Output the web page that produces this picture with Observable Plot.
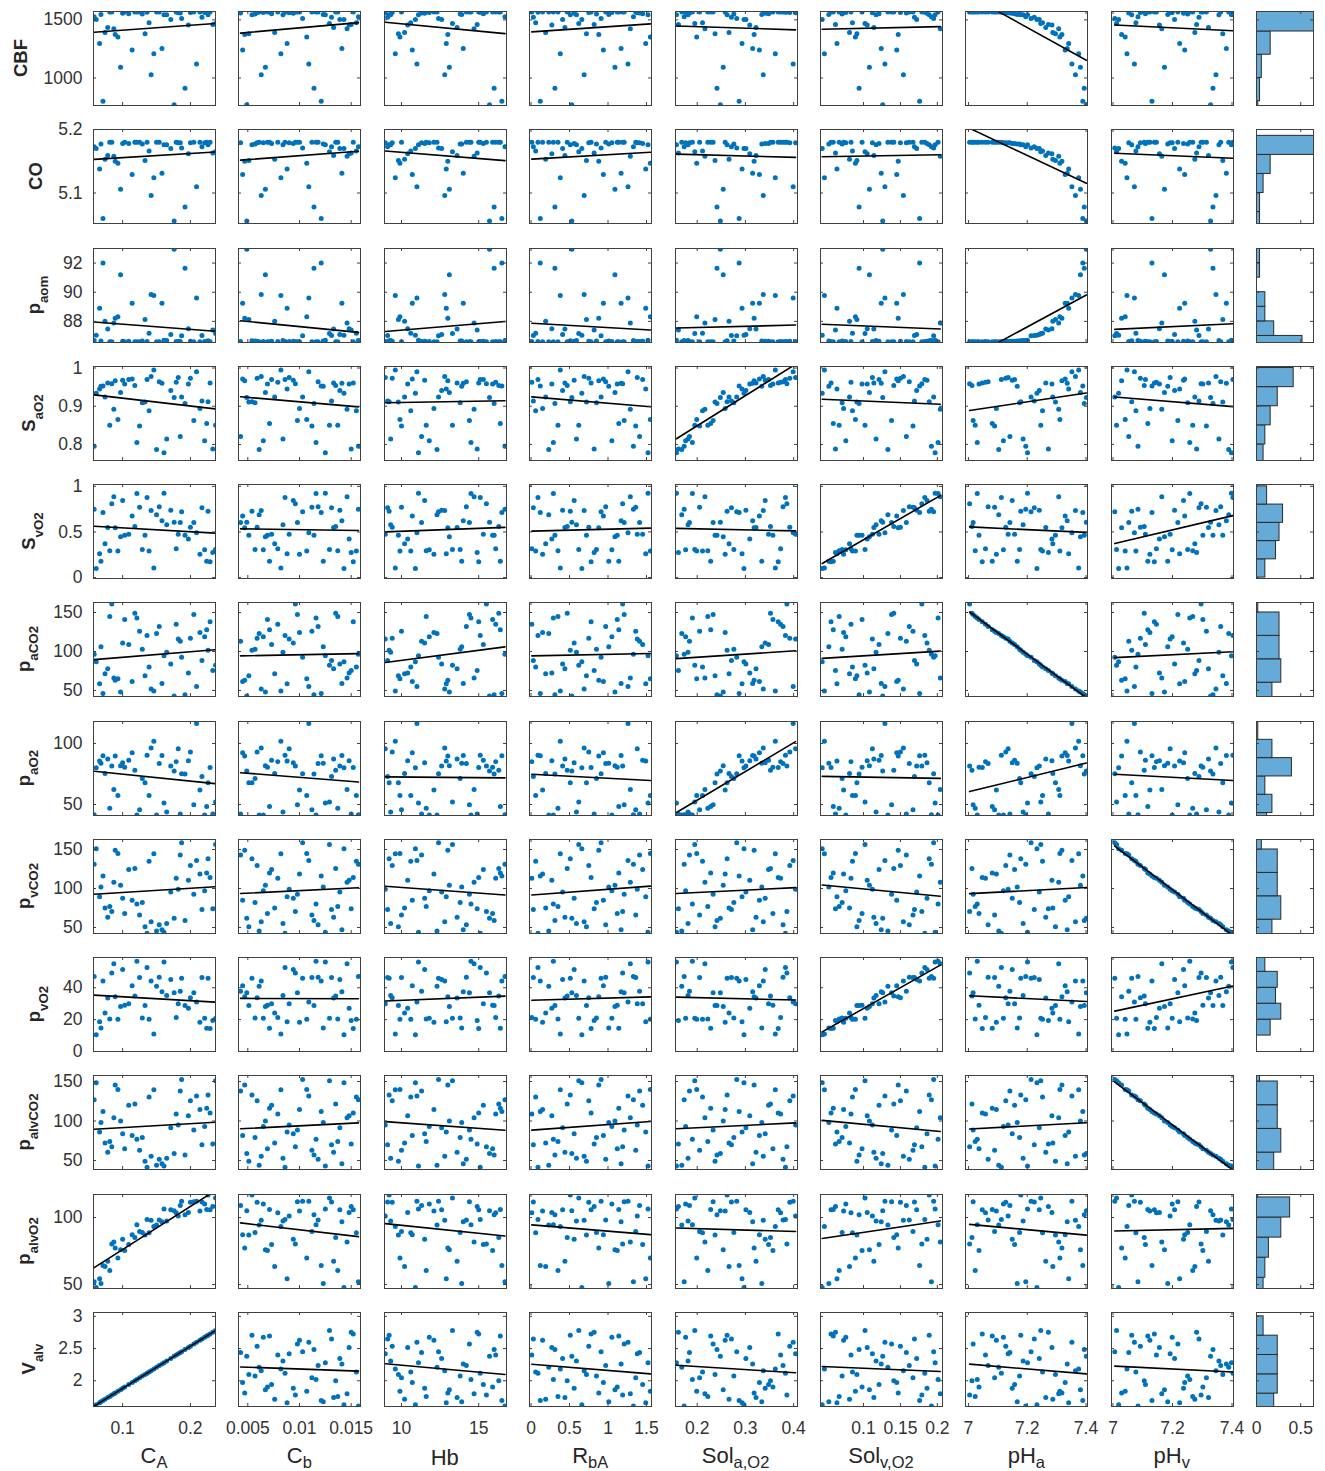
<!DOCTYPE html>
<html><head><meta charset="utf-8">
<script src="https://cdn.jsdelivr.net/npm/d3@7"></script>
<script src="https://cdn.jsdelivr.net/npm/@observablehq/plot@0.6"></script>
<style>
body{margin:0;background:#fff;}
#fig{position:relative;width:1325px;height:1471px;background:#fff;font-family:"Liberation Sans",Arial,Helvetica,sans-serif;overflow:hidden;}
.cell{position:absolute;}
.ylab{position:absolute;font-weight:bold;font-size:18.5px;line-height:1;color:#262626;white-space:nowrap;transform-origin:50% 100%;transform:translate(-50%,-100%) rotate(-90deg);}
.ylab sub{font-size:72%;vertical-align:-0.6em;}
.xlab{position:absolute;font-size:22px;line-height:1;color:#262626;white-space:nowrap;transform:translate(-50%,-50%);}
.xlab sub{font-size:75%;vertical-align:-0.3em;}
</style></head><body><div id="fig"></div>
<script>
// ---- input samples ----
const CA = [0.187,0.179,0.066,0.2,0.133,0.118,0.071,0.129,0.139,0.125,0.089,0.103,0.058,0.142,0.185,0.233,0.084,
  0.061,0.176,0.15,0.109,0.114,0.154,0.197,0.165,0.081,0.146,0.221,0.237,0.229,0.087,0.068,0.192,0.224,
  0.217,0.209,0.182,0.078,0.205,0.161,0.158,0.214,0.074,0.1,0.097,0.121,0.171,0.136,0.093,0.226];
const Cb = [0.0103,0.0079,0.0088,0.0059,0.0051,0.0135,0.0121,0.0057,0.0155,0.0112,0.0047,0.0069,0.0157,0.0063,0.0043,0.015,0.0096,
  0.0143,0.0049,0.0061,0.0073,0.0045,0.0118,0.0148,0.0084,0.0137,0.0082,0.0065,0.0129,0.0152,0.0146,0.0123,0.0114,0.0071,
  0.0131,0.0109,0.009,0.0133,0.0098,0.0125,0.0141,0.01,0.0076,0.0094,0.0067,0.0116,0.0139,0.0086,0.0107,0.0054];
const Hb = [12.4,16.1,12.9,9.4,9.8,16.3,16.5,13.8,10.6,10,13,15.9,16.7,12.8,11.3,14.9,15.5,
  10.9,15.7,12.3,15.3,10.7,14.2,10.4,9.3,11.6,9.6,11.8,13.3,15,14.7,13.9,16,16.4,
  9.1,11,8.95,13.6,14.4,11.1,14,12.1,10.2,11.5,13.1,14.5,12.6,15.1,9.9,9.2];
const RbA = [0.91,0.01,1.49,0.75,0.72,0.47,0.12,0.85,0.06,1.36,0.88,1.12,1.33,0.69,1.41,0.82,1.19,
  0.66,0.53,0.23,1.45,0.94,0.97,0.27,0.59,0.35,0.38,1.05,0.62,0.78,1.29,1.01,0.31,1.14,
  0.03,1.26,1.38,0.44,1.21,1.52,1.17,0.15,0.19,0.56,1.09,0.29,0.41,0.09,1.55,0.51];
const Sola = [0.282,0.373,0.293,0.392,0.237,0.352,0.287,0.276,0.211,0.205,0.318,0.357,0.173,0.337,0.184,0.161,0.386,
  0.297,0.248,0.168,0.348,0.329,0.378,0.309,0.181,0.222,0.362,0.176,0.195,0.368,0.216,0.334,0.241,0.228,
  0.271,0.399,0.404,0.322,0.233,0.157,0.315,0.258,0.266,0.341,0.254,0.19,0.301,0.383,0.199,0.262];
const Solv = [0.195,0.083,0.064,0.15,0.091,0.141,0.176,0.071,0.085,0.167,0.147,0.098,0.192,0.154,0.158,0.062,0.179,
  0.044,0.126,0.133,0.121,0.145,0.162,0.105,0.117,0.067,0.047,0.076,0.102,0.056,0.204,0.053,0.094,0.059,
  0.169,0.129,0.112,0.114,0.138,0.197,0.124,0.073,0.081,0.186,0.108,0.201,0.172,0.183,0.089,0.189];
const pHa = [7.213,7.058,7.341,7.127,7.296,7.012,7.389,7.174,7.252,7.089,7.318,7.036,7.195,7.364,7.141,7.272,7.004,
  7.233,7.401,7.103,7.157,7.329,7.067,7.284,7.186,7.023,7.375,7.119,7.246,7.047,7.307,7.166,7.394,7.081,
  7.224,7.352,7.135,7.263,7.016,7.201,7.336,7.095,7.287,7.149,7.381,7.030,7.241,7.112,7.311,7.178];
const pHv = [7.006,7.146,7.224,7.092,7.369,7.105,7.131,7.251,7.077,7.314,7.029,7.302,7.084,7.346,7.053,7.281,7.296,
  7.019,7.328,7.389,7.109,7.241,7.362,7.156,7.356,7.268,7.047,7.199,7.012,7.139,7.164,7.184,7.336,7.117,
  7.289,7.072,7.192,7.321,7.218,7.398,7.381,7.124,7.275,7.237,7.173,7.258,7.207,7.403,7.041,7.063];

// ---- output samples ----
const CBF = [1512,1568,1297,1563,1381,1568,800,1550,1476,1568,1375,1568,1526,1027,1560,1460,1568,
  1503,770,1567,1553,1240,1568,1455,1543,1568,1209,1564,1469,1568,1424,1546,912,1568,
  1523,1120,1561,1434,1568,1543,1254,1568,1392,1558,1092,1568,1503,1566,1353,1544];
const CO = [5.171,5.180,5.138,5.179,5.151,5.180,5.060,5.177,5.166,5.180,5.150,5.180,5.173,5.096,5.179,5.163,5.180,
  5.170,5.056,5.180,5.178,5.129,5.180,5.162,5.176,5.180,5.124,5.179,5.165,5.180,5.158,5.177,5.078,5.180,
  5.173,5.110,5.179,5.159,5.180,5.176,5.131,5.180,5.153,5.178,5.106,5.180,5.170,5.180,5.147,5.176];
const paom = [87.02,86.62,88.90,86.64,88.13,86.60,92.00,86.66,87.19,86.61,88.22,86.60,86.69,89.85,86.62,87.41,86.60,
  87.05,92.95,86.61,86.63,89.25,86.60,87.49,86.68,86.61,89.77,86.62,87.16,86.60,87.88,86.65,91.65,86.61,
  87.03,89.60,86.62,87.48,86.60,86.70,89.25,86.61,88.00,86.63,91.20,86.60,87.10,86.62,88.31,86.67];
const SaO2 = [0.924,0.963,0.945,0.973,0.911,0.954,0.953,0.909,0.888,0.848,0.967,0.958,0.795,0.978,0.821,0.788,0.959,
  0.934,0.923,0.787,0.970,0.971,0.964,0.958,0.814,0.850,0.995,0.810,0.850,0.961,0.892,0.952,0.907,0.855,
  0.914,0.990,0.975,0.961,0.863,0.778,0.960,0.894,0.924,0.968,0.936,0.805,0.941,0.970,0.865,0.912];
const SvO2 = [0.721,0.316,0.260,0.551,0.465,0.560,0.714,0.307,0.290,0.770,0.547,0.464,0.750,0.734,0.604,0.276,0.808,
  0.100,0.607,0.688,0.475,0.674,0.775,0.424,0.580,0.295,0.105,0.306,0.309,0.174,0.886,0.180,0.463,0.178,
  0.766,0.492,0.475,0.549,0.604,0.925,0.624,0.255,0.370,0.844,0.447,0.921,0.737,0.877,0.292,0.728];
const paCO2 = [92.5,135,58.5,117,69,149,46,103,80,126,63,141,96.5,52,113,75.5,161,
  87,43,123,109,61.5,132,72.5,99,145,49.5,119,82.5,138,66,106,44.5,128,
  88.5,55,116,78,147.5,94.5,59,124.5,71.5,111,48,143,84,120.5,65,101.5];
const paO2 = [75.1,85.1,85.6,93.0,67.9,78.0,90.0,71.3,57.4,45.8,89.7,80.5,41.7,96.3,42.2,42.3,81.6,
  80.2,77.5,41.5,86.2,92.5,83.6,85.8,43.9,47.0,101.9,41.5,52.0,80.4,62.3,83.8,75.0,48.3,
  73.0,116.3,95.6,87.2,49.9,51.2,90.2,61.8,75.4,84.2,81.8,41.5,81.5,90.3,57.3,67.8];
const pvCO2 = [158.5,113,89.5,129.5,51,125.5,116,82,135,66,149,68,131,57.5,143,74,70.5,
  151,62,45.5,124.5,85,53.5,110.5,55,77,144.5,97,156.5,114,108,102,59,120,
  73,136,99,63,92.5,44,47,118.5,75,87.5,104,80,95.5,42.5,145,138];
const pvO2 = [45.9,21.4,18.6,33.8,28.9,34.9,44.3,21.1,20.2,46.5,34.4,29.0,47.1,44.2,37.8,19.5,49.2,
  10.5,36.8,41.0,30.0,41.3,46.6,27.1,35.1,20.4,11.0,20.9,20.8,14.5,55.1,14.8,28.9,14.6,
  46.5,31.0,29.9,33.6,36.9,56.2,37.5,18.4,24.2,51.4,28.3,56.6,45.2,52.8,20.3,45.9];
const palvCO2 = [152.5,109,86,125.5,49,121.5,112,79,130.5,63,145.5,65,127,55.5,138,71,67.5,
  148.5,59,44,120,81.5,51.5,106.5,53,74,139.5,93,151,110,104,98,57,116,
  70,131.5,95,60.5,88.5,43,46,114.5,72,84,100,77,91.5,41.5,140,133];
const palvO2 = [112.2,103.5,54.3,111.5,87.0,85.0,64.1,88.8,88.6,89.5,77.3,75.4,52.0,98.0,109.0,108.2,80.2,
  47.8,105.1,94.5,79.8,87.2,98.2,103.8,97.5,60.5,93.3,110.1,114.6,105.9,81.7,50.7,102.1,106.0,
  111.6,112.2,101.2,67.3,111.8,106.3,96.9,104.9,63.4,83.7,76.0,94.6,105.8,98.5,69.8,116.8];
const Valv = [2.452,2.399,1.659,2.537,2.098,2,1.692,2.072,2.137,2.045,1.81,1.901,1.607,2.157,2.438,2.753,1.777,
  1.626,2.379,2.209,1.941,1.973,2.235,2.517,2.307,1.757,2.183,2.674,2.779,2.727,1.797,1.672,2.484,2.694,
  2.648,2.596,2.419,1.738,2.569,2.281,2.262,2.628,1.711,1.882,1.862,2.019,2.347,2.117,1.836,2.707];

// ---- axis labels, limits, ticks, histogram bins ----
const inputNames = ["CA","Cb","Hb","RbA","Sola","Solv","pHa","pHv"];
const inputLabels = ["C<sub>A</sub>","C<sub>b</sub>","Hb","R<sub>bA</sub>","Sol<sub>a,O2</sub>","Sol<sub>v,O2</sub>","pH<sub>a</sub>","pH<sub>v</sub>"];
const inputDomains = [[0.057,0.237],[0.0041,0.0159],[8.9,16.8],[-0.02,1.565],[0.155,0.408],[0.0417,0.207],[6.99,7.405],[6.995,7.405]];
const inputTicks = [[0.1,0.2],[0.005,0.01,0.015],[10,15],[0,0.5,1,1.5],[0.2,0.3,0.4],[0.1,0.15,0.2],[7,7.2,7.4],[7,7.2,7.4]];

const outputNames = ["CBF","CO","paom","SaO2","SvO2","paCO2","paO2","pvCO2","pvO2","palvCO2","palvO2","Valv"];
const outputLabels = ["CBF","CO","p<sub>aom</sub>","S<sub>aO2</sub>","S<sub>vO2</sub>","p<sub>aCO2</sub>","p<sub>aO2</sub>","p<sub>vCO2</sub>","p<sub>vO2</sub>","p<sub>alvCO2</sub>","p<sub>alvO2</sub>","V<sub>alv</sub>"];
const outputDomains = [[763,1572],[5.052,5.2],[86.55,93.0],[0.758,1.004],[-0.01,1.02],[42.3,162.8],[41,118],[42.3,162.8],[0,59],[38.6,157.6],[47,117.2],[1.6,3.06]];
const outputTicks = [[1000,1500],[5.1,5.2],[88,90,92],[0.8,0.9,1],[0,0.5,1],[50,100,150],[50,100],[50,100,150],[0,20,40],[50,100,150],[50,100],[2,2.5,3]];
const outputBins = [[600,800,1000,1200,1400,1600],[5.04,5.07,5.10,5.13,5.16,5.19],[86,87,88,89,90,91,92,93],[0.75,0.8,0.85,0.9,0.95,1.0],[0,0.2,0.4,0.6,0.8,1.0],[30,60,90,120,150,180],[28,43,58,73,88,103,118,133],[30,60,90,120,150,180],[0,10,20,30,40,50,60],[30,60,90,120,150,180],[40,55,70,85,100,115,130],[1.5,1.8,2.1,2.4,2.7,3.0]];
const histDomain = [0, 0.644];
const histTicks = [0, 0.5];

// ---- build sample table ----
const columns = {CA,Cb,Hb,RbA,Sola,Solv,pHa,pHv,CBF,CO,paom,SaO2,SvO2,paCO2,paO2,pvCO2,pvO2,palvCO2,palvO2,Valv};
const data = CA.map((_, i) => Object.fromEntries(Object.entries(columns).map(([k, v]) => [k, v[i]])));

// ---- layout ----
const fig = document.getElementById("fig");
const FONT = '"Liberation Sans", Arial, Helvetica, sans-serif';
const fmt = d => String(d);
const colLeft = c => 93 + c * 145.4;
const rowTop = r => 11 + r * 118.25;
const PH = 94;
const AX = "#404040";
const tickFS = 17.5;

function textW(s) {
  let w = 0; for (const ch of s) w += (ch === "." ? 0.278 : 0.556);
  return w * tickFS;
}

outputNames.forEach((yk, r) => {
  for (let c = 0; c < 9; c++) {
    const isHist = c === 8;
    const W = isHist ? 57 : 122;
    const ml = c === 0 ? 70 : 2, mr = 2, mt = 2, mb = r === 11 ? 40 : 2;
    const xdom = isHist ? histDomain : inputDomains[c];
    const xt = isHist ? histTicks : inputTicks[c];
    const yt = outputTicks[r];
    const marks = [];
    if (isHist) {
      const bins = outputBins[r];
      marks.push(Plot.rectX(data, Plot.binY({x: "proportion"}, {
        y: yk, thresholds: bins, domain: [bins[0], bins[bins.length - 1]],
        fill: "#66AAD7", stroke: "#2a2a2a", strokeWidth: 1, insetTop: 0, insetBottom: 0, clip: true
      })));
    } else {
      const xk = inputNames[c];
      marks.push(Plot.dot(data, {x: xk, y: yk, r: 2.5, fill: "#0072BD", clip: true}));
      marks.push(Plot.linearRegressionY(data, {x: xk, y: yk, stroke: "#000", strokeWidth: 1.6, ci: 0, clip: true}));
    }
    marks.push(Plot.tickX(xt, {x: d => d, insetTop: PH - 3, stroke: AX, clip: true}));
    marks.push(Plot.tickX(xt, {x: d => d, insetBottom: PH - 3, stroke: AX, clip: true}));
    marks.push(Plot.tickY(yt, {y: d => d, insetRight: W - 3, stroke: AX, clip: true}));
    marks.push(Plot.tickY(yt, {y: d => d, insetLeft: W - 3, stroke: AX, clip: true}));
    marks.push(Plot.frame({stroke: AX, strokeWidth: 1}));
    if (c === 0) marks.push(Plot.axisY({ticks: yt, anchor: "left", tickSize: 0, tickPadding: 11, tickFormat: fmt, label: null, fontSize: tickFS}));
    if (r === 11) marks.push(Plot.axisX({ticks: xt, anchor: "bottom", tickSize: 0, tickPadding: 15, tickFormat: fmt, label: null, fontSize: tickFS}));

    const svg = Plot.plot({
      width: W + ml + mr, height: PH + mt + mb,
      marginLeft: ml, marginRight: mr, marginTop: mt, marginBottom: mb,
      x: {domain: xdom, axis: null},
      y: {domain: outputDomains[r], axis: null},
      style: {fontFamily: FONT, fontSize: tickFS + "px", color: "#333", background: "none", overflow: "visible"},
      marks
    });
    const holder = document.createElement("div");
    holder.className = "cell";
    holder.style.left = (colLeft(c) - ml) + "px";
    holder.style.top = (rowTop(r) - mt) + "px";
    holder.appendChild(svg);
    fig.appendChild(holder);
  }
  const maxTick = Math.max(...outputTicks[r].map(t => textW(fmt(t))));
  const right = colLeft(0) - 11 - maxTick - 13;
  const lab = document.createElement("div");
  lab.className = "ylab";
  lab.innerHTML = outputLabels[r];
  lab.style.left = right + "px";
  lab.style.top = (rowTop(r) + PH / 2) + "px";
  fig.appendChild(lab);
});

inputLabels.forEach((t, c) => {
  const lab = document.createElement("div");
  lab.className = "xlab";
  lab.innerHTML = t;
  lab.style.left = (colLeft(c) + 61) + "px";
  lab.style.top = "1458px";
  fig.appendChild(lab);
});
</script></body></html>
